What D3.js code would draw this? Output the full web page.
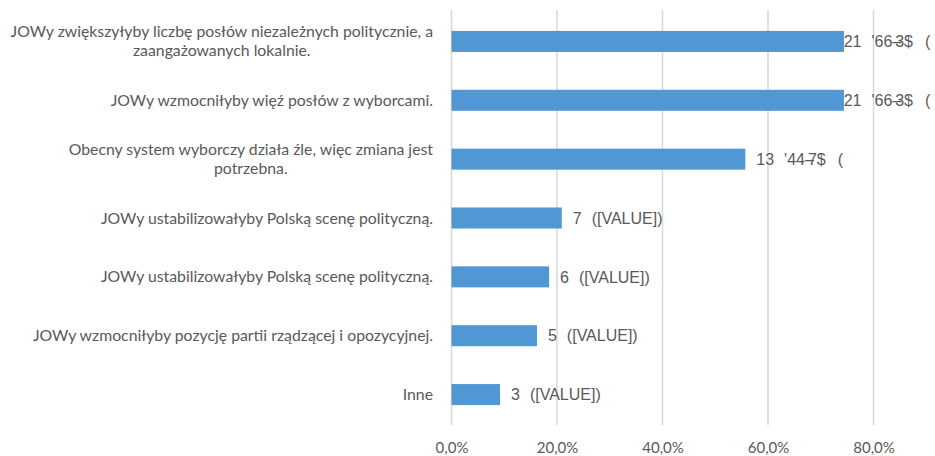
<!DOCTYPE html>
<html>
<head>
<meta charset="utf-8">
<script src="https://cdn.jsdelivr.net/npm/d3@7"></script>
<style>
  html, body { margin: 0; padding: 0; background: #ffffff; }
  svg { display: block; }
  .vlab { white-space: pre; }
</style>
</head>
<body>
<svg id="chart" width="935" height="456"></svg>
<script>
// ---- data ----
const categories = [
  ["JOWy zwiększyłyby liczbę posłów niezależnych politycznie, a", "zaangażowanych lokalnie."],
  ["JOWy wzmocniłyby więź posłów z wyborcami."],
  ["Obecny system wyborczy działa źle, więc zmiana jest", "potrzebna."],
  ["JOWy ustabilizowałyby Polską scenę polityczną."],
  ["JOWy ustabilizowałyby Polską scenę polityczną."],
  ["JOWy wzmocniłyby pozycję partii rządzącej i opozycyjnej."],
  ["Inne"]
];
const percentValues = [74.4, 74.4, 55.7, 20.9, 18.5, 16.2, 9.2];
const countLabels = ["21", "21", "13", "7", "6", "5", "3"];
const suffixLabels = [
  ["'66", "–", "3$", "("],
  ["'66", "–", "3$", "("],
  ["'44", "–", "7$", "("],
  ["([VALUE])"],
  ["([VALUE])"],
  ["([VALUE])"],
  ["([VALUE])"]
];
const tickValues = [0, 20, 40, 60, 80];
const tickLabels = ["0,0%", "20,0%", "40,0%", "60,0%", "80,0%"];

// ---- layout ----
const W = 935, H = 456;
const svg = d3.select("#chart");
const x = d3.scaleLinear().domain([0, 80]).range([451.5, 873.5]);
const y = d3.scaleBand()
  .domain(d3.range(categories.length))
  .range([12, 424])
  .paddingInner(0.643)
  .paddingOuter(0.3215);

const gridColor = "#d9d9d9";
const textColor = "#595959";
const barColor = "#5097d3";
const catFont = "Lato, 'Open Sans', sans-serif";
const numFont = "'Liberation Sans', Arial, sans-serif";

// gridlines
svg.append("g")
  .selectAll("line")
  .data(tickValues)
  .join("line")
  .attr("x1", d => x(d)).attr("x2", d => x(d))
  .attr("y1", y.range()[0] - 2).attr("y2", y.range()[1] + 1)
  .attr("stroke", gridColor)
  .attr("stroke-width", 1.5);

// tick labels via axis
const axis = d3.axisBottom(x)
  .tickValues(tickValues)
  .tickFormat((d, i) => tickLabels[i])
  .tickSize(0)
  .tickPadding(0);
const gAxis = svg.append("g").attr("transform", "translate(0,442)").call(axis);
gAxis.select(".domain").remove();
gAxis.selectAll("text")
  .attr("fill", textColor)
  .attr("font-family", catFont)
  .attr("font-size", "15px")
  .attr("dy", "0.71em");

// bars
svg.append("g")
  .selectAll("rect")
  .data(percentValues)
  .join("rect")
  .attr("x", x(0))
  .attr("y", (d, i) => y(i))
  .attr("width", d => x(d) - x(0))
  .attr("height", y.bandwidth())
  .attr("fill", barColor);

// category labels
const catG = svg.append("g");
categories.forEach((lines, i) => {
  const cy = y(i) + y.bandwidth() / 2;
  const lh = 19;
  const t = catG.append("text")
    .attr("fill", textColor)
    .attr("font-family", catFont)
    .attr("font-size", "15.8px");
  const top = cy - (lines.length - 1) * lh / 2;
  lines.forEach((ln, j) => {
    t.append("tspan")
      .attr("y", top + j * lh)
      .attr("dy", "0.35em")
      .text(ln);
  });
  const widths = [];
  t.selectAll("tspan").each(function () { widths.push(this.getComputedTextLength()); });
  const maxW = d3.max(widths);
  const centre = 433 - maxW / 2;
  t.attr("text-anchor", "middle");
  t.selectAll("tspan").attr("x", centre);
});

// value labels
const labG = svg.append("g");
percentValues.forEach((v, i) => {
  const cy = y(i) + y.bandwidth() / 2;
  const t = labG.append("text")
    .attr("class", "vlab")
    .attr("x", 0)
    .attr("y", cy)
    .attr("dy", "0.36em")
    .attr("fill", textColor)
    .attr("font-family", numFont)
    .attr("font-size", "16px");
  t.append("tspan").text(countLabels[i]);
  const parts = suffixLabels[i];
  parts.forEach((p, k) => {
    const ts = t.append("tspan").text(p);
    if (k === 0) ts.attr("dx", 10);
    if (k === 2) ts.attr("dx", -6);
    if (k === 3) ts.attr("dx", 12);
  });
  const bb = t.node().getBBox();
  const right = bb.x + bb.width;
  const pos = Math.min(x(v) + 11, W - 4 - right);
  t.attr("x", pos);
});
</script>
</body>
</html>
